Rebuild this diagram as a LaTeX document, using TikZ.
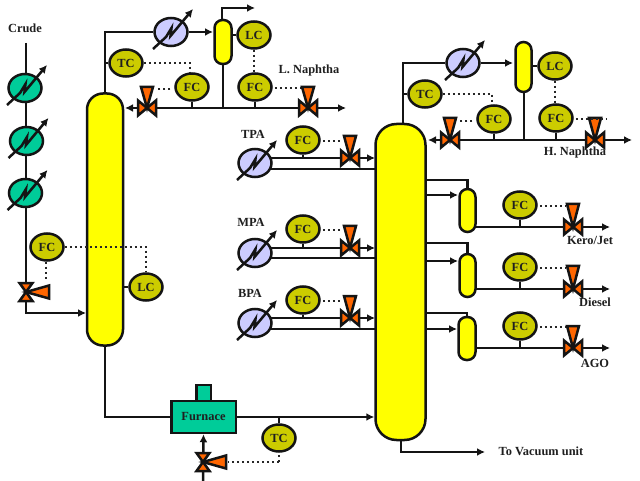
\documentclass[tikz,border=0pt]{standalone}
\usepackage{fontspec}
\setmainfont{Liberation Serif}
\usetikzlibrary{shapes.geometric,arrows.meta}
\pgfdeclarelayer{back}
\pgfsetlayers{back,main}
\definecolor{vesselY}{HTML}{FFFF00}
\definecolor{instY}{HTML}{CCCC00}
\definecolor{tealG}{HTML}{00CC99}
\definecolor{lavB}{HTML}{CCCCFF}
\definecolor{valveO}{HTML}{FF6600}
\tikzset{
  every node/.style={font=\fontsize{12.4}{12.4}\selectfont\bfseries,text=black!88},
  lw/.style={line width=2.5pt,draw=black!92},
  pipe/.style={lw,line join=miter},
  flow/.style={pipe,-{Latex[length=8pt,width=8pt]}},
  signal/.style={line width=2.4pt,draw=black!85,dash pattern=on 2.4pt off 2.6pt},
  inst/.style={ellipse,lw,fill=instY,minimum width=33pt,minimum height=27pt,inner sep=0pt},
  hxshape/.style={ellipse,lw,minimum width=33pt,minimum height=28pt,inner sep=0pt},
  vessel/.style={rectangle,lw,fill=vesselY,inner sep=0pt},
  labeltext/.style={inner sep=0pt},
  valvepart/.style={lw,fill=valveO,line join=miter,miter limit=6},
}
% exchanger: name, x, y, colour
\newcommand{\exch}[4]{%
  \node[hxshape,fill=#4] (#1) at (#2,#3) {};
  \begin{scope}[shift={(#2,#3)}]
    \draw[lw,line join=miter,-{Latex[length=8pt,width=8pt]}] (-18,17) -- (-5,5) -- (0.5,-4) -- (-0.5,4) -- (22,-23);
  \end{scope}}
% valve on a horizontal line, actuator above
\newcommand{\valveh}[4]{%
  \coordinate (#1) at (#2,#3);
  \begin{scope}[shift={(#2,#3)}]
    \draw[valvepart] (-9,-7.5) -- (-9,7.5) -- (0,0) -- cycle;
    \draw[valvepart] (9,-7.5) -- (9,7.5) -- (0,0) -- cycle;
    \draw[valvepart] (-6,-#4) -- (6,-#4) -- (0,0) -- cycle;
  \end{scope}}
% valve on a vertical line, actuator at the right
\newcommand{\valvev}[4]{%
  \coordinate (#1) at (#2,#3);
  \begin{scope}[shift={(#2,#3)}]
    \draw[valvepart] (-6.5,-9) -- (6.5,-9) -- (0,0) -- cycle;
    \draw[valvepart] (-6.5,9) -- (6.5,9) -- (0,0) -- cycle;
    \draw[valvepart] (#4,-6.5) -- (#4,6.5) -- (0,0) -- cycle;
  \end{scope}}
\begin{document}
\begin{tikzpicture}[x=1pt,y=-1pt]
\useasboundingbox (0,0) rectangle (640,481);
% ---------- vessels
\node[vessel,minimum width=36pt,minimum height=252pt,rounded corners=16pt] (col1) at (105,219.5) {};
\node[vessel,minimum width=50pt,minimum height=316pt,rounded corners=21pt] (col2) at (400.5,282) {};
\node[vessel,minimum width=17pt,minimum height=44pt,rounded corners=8pt] (d1) at (223,42) {};
\node[vessel,minimum width=16pt,minimum height=50pt,rounded corners=8pt] (d2) at (523.5,67) {};
\node[vessel,minimum width=16pt,minimum height=43pt,rounded corners=8pt] (s1) at (467.5,210.5) {};
\node[vessel,minimum width=16pt,minimum height=43pt,rounded corners=8pt] (s2) at (467.5,275.5) {};
\node[vessel,minimum width=17pt,minimum height=43pt,rounded corners=8pt] (s3) at (467,338.5) {};
% ---------- furnace
\node[rectangle,lw,fill=tealG,minimum width=64.5pt,minimum height=32pt,inner sep=0pt] (furn) at (203.5,417) {Furnace};
\node[rectangle,lw,fill=tealG,minimum width=14.5pt,minimum height=16pt,inner sep=0pt] (chim) at (203.5,393) {};
% ---------- exchangers
\exch{ha}{25}{88}{tealG}
\exch{hb}{26.5}{141}{tealG}
\exch{hc}{25.5}{193}{tealG}
\exch{ho1}{171}{32}{lavB}
\exch{ho2}{463}{63}{lavB}
\exch{tpa}{255}{163}{lavB}
\exch{mpa}{255}{253}{lavB}
\exch{bpa}{255}{323}{lavB}
% ---------- instruments
\node[inst] (fc0) at (47,247) {FC};
\node[inst] (lc0) at (146,287) {LC};
\node[inst] (tc1) at (126,63) {TC};
\node[inst] (fc1) at (192,87) {FC};
\node[inst] (lc1) at (254,35) {LC};
\node[inst] (fc2) at (255,87) {FC};
\node[inst] (fc3) at (303,140) {FC};
\node[inst] (fc4) at (303,229) {FC};
\node[inst] (fc5) at (303,300) {FC};
\node[inst] (tc2) at (425,94) {TC};
\node[inst] (fc6) at (494,119) {FC};
\node[inst] (lc2) at (555,66) {LC};
\node[inst] (fc7) at (556,118) {FC};
\node[inst] (fc8) at (520,205) {FC};
\node[inst] (fc9) at (520,267) {FC};
\node[inst] (fc10) at (520,326) {FC};
\node[inst] (tc3) at (279,438) {TC};
% ---------- texts
\node[labeltext] (tCrude) at (25,28) {Crude};
\node[labeltext] (tLN) at (309,71) {L. Naphtha};
\node[labeltext] (tHN) at (575,153) {H. Naphtha};
\node[labeltext] (tTPA) at (253,134) {TPA};
\node[labeltext] (tMPA) at (251,222) {MPA};
\node[labeltext] (tBPA) at (250,293) {BPA};
\node[labeltext] (tKJ) at (590,240) {Kero/Jet};
\node[labeltext] (tD) at (595,302) {Diesel};
\node[labeltext] (tA) at (595,363) {AGO};
\node[labeltext] (tV) at (541,451) {To Vacuum unit};
% ---------- valves
\valvev{v0}{26}{292}{23}
\valvev{v9}{203}{462}{23}
\valveh{v1}{147}{108}{21}
\valveh{v2}{308}{108}{21}
\valveh{v3}{350}{158}{22}
\valveh{v4}{350}{248}{22}
\valveh{v5}{350}{318}{22}
\valveh{v6}{450}{140}{22}
\valveh{v7}{595}{140}{22}
\valveh{v8}{573}{227}{23}
\valveh{v10}{573}{289}{23}
\valveh{v11}{573}{348}{22}
% ---------- free ends
\coordinate (crudetop) at (26,43);
\coordinate (crudein) at (86,313);
\coordinate (fuelin) at (203,481);
\coordinate (l1w) at (125,108);
\coordinate (l1e) at (346,108);
\coordinate (l2w) at (428,140);
\coordinate (l2e) at (632,140);
\coordinate (d1out) at (255,8);
\coordinate (vac) at (485,452);
\coordinate (o1) at (610,227);
\coordinate (o2) at (610,289);
\coordinate (o3) at (610,348);
\coordinate (r1a) at (375,158);\coordinate (r1b) at (375,169);
\coordinate (r2a) at (375,248);\coordinate (r2b) at (375,258);
\coordinate (r3a) at (375,318);\coordinate (r3b) at (375,329);
\coordinate (hxr1a) at (255,158);\coordinate (hxr1b) at (255,169);
\coordinate (hxr2a) at (255,248);\coordinate (hxr2b) at (255,258);
\coordinate (hxr3a) at (255,318);\coordinate (hxr3b) at (255,329);
\coordinate (s1a) at (426,180);\coordinate (s1b) at (426,195);\coordinate (s1c) at (458,195);
\coordinate (s2a) at (426,243);\coordinate (s2b) at (426,261);\coordinate (s2c) at (458,261);
\coordinate (s3a) at (426,313);\coordinate (s3b) at (426,329);\coordinate (s3c) at (457,329);
\coordinate (col1out) at (105,347);
\coordinate (col2out) at (401,440);
\coordinate (col1top) at (105,93);
\coordinate (col2top) at (403,123);
\coordinate (d1in) at (213,32);
\coordinate (d2in) at (513,63);
\coordinate (d1bot) at (223,64);
\coordinate (d2bot) at (524,92);
\coordinate (d1top) at (222,20);
\coordinate (sg1) at (190,62);
\coordinate (sg2) at (492,94);
\coordinate (sg0) at (146,248);
\coordinate (sg3) at (278,462);
\coordinate (sg3b) at (228,462);
\coordinate (sg4) at (46,281);
\begin{pgfonlayer}{back}
  % crude train
  \draw[pipe] (crudetop) -- (v0);
  \draw[flow] (v0) |- (crudein);
  % bottoms to furnace to column 2
  \draw[pipe] (col1out) |- (furn.west);
  \draw[flow] (furn.east) -- (col2.west |- furn.east);
  \draw[flow] (fuelin) -- (furn.south);
  \draw[pipe] (tc3.north) -- (tc3.north |- furn.east);
  % first overhead
  \draw[pipe] (col1top) |- (ho1.west);
  \draw[flow] (ho1.east) -- (d1in);
  \draw[flow] (d1top) |- (d1out);
  \draw[pipe] (d1bot) -- (d1bot |- l1w);
  \draw[flow] (d1bot |- l1w) -- (l1w);
  \draw[flow] (d1bot |- l1w) -- (l1e);
  \draw[pipe] (tc1.west) -- (col1top |- tc1.west);
  \draw[pipe] (d1.east |- lc1.west) -- (lc1.west);
  \draw[pipe] (fc1.south) -- (fc1.south |- l1w);
  \draw[pipe] (fc2.south) -- (fc2.south |- l1w);
  \draw[pipe] (lc0.west) -- (col1.east |- lc0.west);
  % pump-arounds
  \draw[flow] (hxr1a) -- (r1a);
  \draw[pipe] (hxr1b) -- (r1b);
  \draw[flow] (hxr2a) -- (r2a);
  \draw[pipe] (hxr2b) -- (r2b);
  \draw[flow] (hxr3a) -- (r3a);
  \draw[pipe] (hxr3b) -- (r3b);
  \draw[pipe] (fc3.south) -- (fc3.south |- r1a);
  \draw[pipe] (fc4.south) -- (fc4.south |- r2a);
  \draw[pipe] (fc5.south) -- (fc5.south |- r3a);
  % second overhead
  \draw[pipe] (col2top) |- (ho2.west);
  \draw[flow] (ho2.east) -- (d2in);
  \draw[pipe] (d2bot) -- (d2bot |- l2w);
  \draw[flow] (d2bot |- l2w) -- (l2w);
  \draw[flow] (d2bot |- l2w) -- (l2e);
  \draw[pipe] (tc2.west) -- (col2top |- tc2.west);
  \draw[pipe] (d2.east |- lc2.west) -- (lc2.west);
  \draw[pipe] (fc6.south) -- (fc6.south |- l2w);
  \draw[pipe] (fc7.south) -- (fc7.south |- l2w);
  % side strippers
  \draw[pipe] (s1a) -| (s1.north);
  \draw[flow] (s1b) -- (s1c);
  \draw[flow] (s1.center |- o1) -- (o1);
  \draw[pipe] (fc8.south) -- (fc8.south |- o1);
  \draw[pipe] (s2a) -| (s2.north);
  \draw[flow] (s2b) -- (s2c);
  \draw[flow] (s2.center |- o2) -- (o2);
  \draw[pipe] (fc9.south) -- (fc9.south |- o2);
  \draw[pipe] (s3a) -| (s3.north);
  \draw[flow] (s3b) -- (s3c);
  \draw[flow] (s3.center |- o3) -- (o3);
  \draw[pipe] (fc10.south) -- (fc10.south |- o3);
  % vacuum
  \draw[flow] (col2out) |- (vac);
\end{pgfonlayer}
% ---------- signals
\draw[signal] (fc0.east) -- (sg0 |- fc0.east) -- (lc0.north);
\draw[signal] (sg4 |- fc0.south) -- (sg4);
\draw[signal] (tc1.east) -- (sg1 |- tc1.east) -- (sg1 |- fc1.north);
\draw[signal] (fc1.west) ++(-4,2) -- +(-14,0);
\draw[signal] (lc1.south) -- (lc1.south |- fc2.north);
\draw[signal] (fc2.east) ++(2,1) -- (300,88);
\draw[signal] (fc3.east) ++(2,1) -- (342,141);
\draw[signal] (fc4.east) ++(2,1) -- (342,230);
\draw[signal] (fc5.east) ++(2,1) -- (342,301);
\draw[signal] (tc2.east) -- (sg2 |- tc2.east) -- (sg2 |- fc6.north);
\draw[signal] (fc6.west) ++(-4,2) -- +(-13,0);
\draw[signal] (lc2.south) -- (lc2.south |- fc7.north);
\draw[signal] (fc7.east) ++(2,1) -- (606,119);
\draw[signal] (fc8.east) ++(2,1) -- (566,206);
\draw[signal] (fc9.east) ++(2,1) -- (566,268);
\draw[signal] (fc10.east) ++(2,1) -- (566,327);
\draw[signal] (tc3.south |- sg3) -- (tc3.south);
\draw[signal] (tc3.south |- sg3) -- (sg3b);
\end{tikzpicture}
\end{document}
